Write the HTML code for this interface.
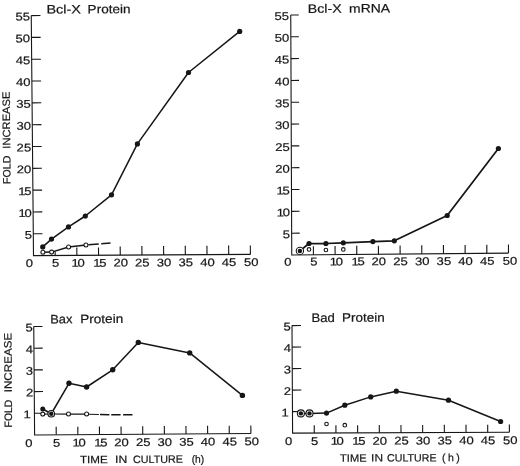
<!DOCTYPE html>
<html><head><meta charset="utf-8"><title>Fold increase vs time in culture</title>
<style>html,body{margin:0;padding:0;background:#fff;}svg{display:block;}text{font-family:"Liberation Sans",sans-serif;fill:#161616;stroke:#161616;stroke-width:0.2px;}</style>
</head><body>
<svg width="520" height="466" viewBox="0 0 520 466" style="will-change:transform;filter:grayscale(1)">
<rect width="520" height="466" fill="#fff"/>
<g id="bclx-protein">
<path d="M31.25 15.6 L33.5 255.6 L250.4 254.4" fill="none" stroke="#161616" stroke-width="1.1" stroke-linejoin="miter"/>
<path d="M33.3 233.78 L42.5 233.73" stroke="#161616" stroke-width="1.1"/>
<text transform="translate(32 238.69) rotate(-0.32) scale(1.17 1)" font-size="11.2" text-anchor="end">5</text>
<path d="M33.09 211.96 L42.29 211.91" stroke="#161616" stroke-width="1.1"/>
<text transform="translate(31.79 216.87) rotate(-0.32) scale(1.17 1)" font-size="11.2" text-anchor="end">1<tspan dx="-1.1">0</tspan></text>
<path d="M32.89 190.15 L42.09 190.09" stroke="#161616" stroke-width="1.1"/>
<text transform="translate(31.59 195.06) rotate(-0.32) scale(1.17 1)" font-size="11.2" text-anchor="end">1<tspan dx="-1.1">5</tspan></text>
<path d="M32.68 168.33 L41.88 168.28" stroke="#161616" stroke-width="1.1"/>
<text transform="translate(31.38 173.24) rotate(-0.32) scale(1.17 1)" font-size="11.2" text-anchor="end">20</text>
<path d="M32.48 146.51 L41.68 146.46" stroke="#161616" stroke-width="1.1"/>
<text transform="translate(31.18 151.42) rotate(-0.32) scale(1.17 1)" font-size="11.2" text-anchor="end">25</text>
<path d="M32.27 124.69 L41.47 124.64" stroke="#161616" stroke-width="1.1"/>
<text transform="translate(30.97 129.6) rotate(-0.32) scale(1.17 1)" font-size="11.2" text-anchor="end">30</text>
<path d="M32.07 102.87 L41.27 102.82" stroke="#161616" stroke-width="1.1"/>
<text transform="translate(30.77 107.78) rotate(-0.32) scale(1.17 1)" font-size="11.2" text-anchor="end">35</text>
<path d="M31.86 81.05 L41.06 81" stroke="#161616" stroke-width="1.1"/>
<text transform="translate(30.56 85.96) rotate(-0.32) scale(1.17 1)" font-size="11.2" text-anchor="end">40</text>
<path d="M31.66 59.24 L40.86 59.19" stroke="#161616" stroke-width="1.1"/>
<text transform="translate(30.36 64.15) rotate(-0.32) scale(1.17 1)" font-size="11.2" text-anchor="end">45</text>
<path d="M31.45 37.42 L40.65 37.37" stroke="#161616" stroke-width="1.1"/>
<text transform="translate(30.15 42.33) rotate(-0.32) scale(1.17 1)" font-size="11.2" text-anchor="end">50</text>
<path d="M31.25 15.6 L40.45 15.55" stroke="#161616" stroke-width="1.1"/>
<text transform="translate(29.95 20.51) rotate(-0.32) scale(1.17 1)" font-size="11.2" text-anchor="end">55</text>
<text transform="translate(29.4 266.9) rotate(-0.32) scale(1.17 1)" font-size="11.2" text-anchor="middle">0</text>
<path d="M55.19 255.48 L55.15 251.48" stroke="#161616" stroke-width="1.1"/>
<text transform="translate(55.59 266.81) rotate(-0.32) scale(1.17 1)" font-size="11.2" text-anchor="middle">5</text>
<path d="M76.88 255.36 L76.81 247.56" stroke="#161616" stroke-width="1.1"/>
<text transform="translate(78.18 266.72) rotate(-0.32) scale(1.17 1)" font-size="11.2" text-anchor="middle">1<tspan dx="-1.1">0</tspan></text>
<path d="M98.57 255.24 L98.5 247.44" stroke="#161616" stroke-width="1.1"/>
<text transform="translate(99.87 266.63) rotate(-0.32) scale(1.17 1)" font-size="11.2" text-anchor="middle">1<tspan dx="-1.1">5</tspan></text>
<path d="M120.26 255.12 L120.18 246.42" stroke="#161616" stroke-width="1.1"/>
<text transform="translate(120.66 266.54) rotate(-0.32) scale(1.17 1)" font-size="11.2" text-anchor="middle">20</text>
<path d="M141.95 255 L141.87 246" stroke="#161616" stroke-width="1.1"/>
<text transform="translate(142.35 266.45) rotate(-0.32) scale(1.17 1)" font-size="11.2" text-anchor="middle">25</text>
<path d="M163.64 254.88 L163.56 245.88" stroke="#161616" stroke-width="1.1"/>
<text transform="translate(164.04 266.36) rotate(-0.32) scale(1.17 1)" font-size="11.2" text-anchor="middle">30</text>
<path d="M185.33 254.76 L185.25 245.76" stroke="#161616" stroke-width="1.1"/>
<text transform="translate(185.73 266.27) rotate(-0.32) scale(1.17 1)" font-size="11.2" text-anchor="middle">35</text>
<path d="M207.02 254.64 L206.94 245.64" stroke="#161616" stroke-width="1.1"/>
<text transform="translate(207.42 266.18) rotate(-0.32) scale(1.17 1)" font-size="11.2" text-anchor="middle">40</text>
<path d="M228.71 254.52 L228.63 245.52" stroke="#161616" stroke-width="1.1"/>
<text transform="translate(229.11 266.09) rotate(-0.32) scale(1.17 1)" font-size="11.2" text-anchor="middle">45</text>
<path d="M250.4 254.4 L250.32 245.4" stroke="#161616" stroke-width="1.1"/>
<text transform="translate(251.2 266) rotate(-0.32) scale(1.17 1)" font-size="11.2" text-anchor="middle">50</text>
<text transform="translate(46.4 13.6) rotate(-0.3)" font-size="12.2"><tspan x="0" textLength="34.6" lengthAdjust="spacingAndGlyphs">Bcl-X</tspan> <tspan x="41.2" textLength="43" lengthAdjust="spacingAndGlyphs">Protein</tspan></text>
<text transform="translate(10.6 184) rotate(-90.5)" font-size="10.7"><tspan x="0" textLength="28.4" lengthAdjust="spacingAndGlyphs">FOLD</tspan> <tspan x="35.3" textLength="57.2" lengthAdjust="spacingAndGlyphs">INCREASE</tspan></text>
<path d="M42.9 252.25 L51.6 252.1 L68.6 247 L85.95 244.95" fill="none" stroke="#161616" stroke-width="1.5" stroke-linejoin="round"/>
<path d="M88.4 244.75 L98.75 243.95" fill="none" stroke="#161616" stroke-width="1.5" stroke-linejoin="round"/>
<path d="M101.25 243.75 L110.6 243" fill="none" stroke="#161616" stroke-width="1.5" stroke-linejoin="round"/>
<path d="M42.75 246.9 L51.5 239.1 L68.5 226.9 L85.3 216 L111.5 194.8 L137.4 143.9 L188.5 72.5 L239.7 31.4" fill="none" stroke="#161616" stroke-width="1.5" stroke-linejoin="round"/>
<circle cx="42.9" cy="252.25" r="2.0" fill="#fff" stroke="#161616" stroke-width="1.05"/>
<circle cx="51.6" cy="252.1" r="2.0" fill="#fff" stroke="#161616" stroke-width="1.05"/>
<circle cx="68.6" cy="247" r="2.0" fill="#fff" stroke="#161616" stroke-width="1.05"/>
<circle cx="85.95" cy="244.95" r="2.0" fill="#fff" stroke="#161616" stroke-width="1.05"/>
<circle cx="42.75" cy="246.9" r="2.6" fill="#161616"/>
<circle cx="51.5" cy="239.1" r="2.6" fill="#161616"/>
<circle cx="68.5" cy="226.9" r="2.6" fill="#161616"/>
<circle cx="85.3" cy="216" r="2.6" fill="#161616"/>
<circle cx="111.5" cy="194.8" r="2.6" fill="#161616"/>
<circle cx="137.4" cy="143.9" r="2.6" fill="#161616"/>
<circle cx="188.5" cy="72.5" r="2.6" fill="#161616"/>
<circle cx="239.7" cy="31.4" r="2.6" fill="#161616"/>
</g>
<g id="bclx-mrna">
<path d="M290.75 15 L291.75 255 L508.5 253.1" fill="none" stroke="#161616" stroke-width="1.1" stroke-linejoin="miter"/>
<path d="M291.66 233.18 L299.66 233.11" stroke="#161616" stroke-width="1.1"/>
<text transform="translate(290.06 238.09) rotate(-0.5) scale(1.17 1)" font-size="11.2" text-anchor="end">5</text>
<path d="M291.57 211.36 L299.57 211.29" stroke="#161616" stroke-width="1.1"/>
<text transform="translate(289.97 216.27) rotate(-0.5) scale(1.17 1)" font-size="11.2" text-anchor="end">1<tspan dx="-1.1">0</tspan></text>
<path d="M291.48 189.55 L299.48 189.48" stroke="#161616" stroke-width="1.1"/>
<text transform="translate(289.88 194.46) rotate(-0.5) scale(1.17 1)" font-size="11.2" text-anchor="end">1<tspan dx="-1.1">5</tspan></text>
<path d="M291.39 167.73 L299.39 167.66" stroke="#161616" stroke-width="1.1"/>
<text transform="translate(289.79 172.64) rotate(-0.5) scale(1.17 1)" font-size="11.2" text-anchor="end">20</text>
<path d="M291.3 145.91 L299.3 145.84" stroke="#161616" stroke-width="1.1"/>
<text transform="translate(289.7 150.82) rotate(-0.5) scale(1.17 1)" font-size="11.2" text-anchor="end">25</text>
<path d="M291.2 124.09 L299.2 124.02" stroke="#161616" stroke-width="1.1"/>
<text transform="translate(289.6 129) rotate(-0.5) scale(1.17 1)" font-size="11.2" text-anchor="end">30</text>
<path d="M291.11 102.27 L299.11 102.2" stroke="#161616" stroke-width="1.1"/>
<text transform="translate(289.51 107.18) rotate(-0.5) scale(1.17 1)" font-size="11.2" text-anchor="end">35</text>
<path d="M291.02 80.45 L299.02 80.38" stroke="#161616" stroke-width="1.1"/>
<text transform="translate(289.42 85.36) rotate(-0.5) scale(1.17 1)" font-size="11.2" text-anchor="end">40</text>
<path d="M290.93 58.64 L298.93 58.57" stroke="#161616" stroke-width="1.1"/>
<text transform="translate(289.33 63.55) rotate(-0.5) scale(1.17 1)" font-size="11.2" text-anchor="end">45</text>
<path d="M290.84 36.82 L298.84 36.75" stroke="#161616" stroke-width="1.1"/>
<text transform="translate(289.24 41.73) rotate(-0.5) scale(1.17 1)" font-size="11.2" text-anchor="end">50</text>
<path d="M290.75 15 L298.75 14.93" stroke="#161616" stroke-width="1.1"/>
<text transform="translate(289.15 19.91) rotate(-0.5) scale(1.17 1)" font-size="11.2" text-anchor="end">55</text>
<text transform="translate(288 265.6) rotate(-0.5) scale(1.17 1)" font-size="11.2" text-anchor="middle">0</text>
<path d="M313.43 254.81 L313.39 246.21" stroke="#161616" stroke-width="1.1"/>
<text transform="translate(313.82 265.52) rotate(-0.5) scale(1.17 1)" font-size="11.2" text-anchor="middle">5</text>
<path d="M335.1 254.62 L335.06 246.02" stroke="#161616" stroke-width="1.1"/>
<text transform="translate(336.4 265.43) rotate(-0.5) scale(1.17 1)" font-size="11.2" text-anchor="middle">1<tspan dx="-1.1">0</tspan></text>
<path d="M356.77 254.43 L356.74 245.83" stroke="#161616" stroke-width="1.1"/>
<text transform="translate(358.07 265.35) rotate(-0.5) scale(1.17 1)" font-size="11.2" text-anchor="middle">1<tspan dx="-1.1">5</tspan></text>
<path d="M378.45 254.24 L378.41 245.64" stroke="#161616" stroke-width="1.1"/>
<text transform="translate(378.85 265.26) rotate(-0.5) scale(1.17 1)" font-size="11.2" text-anchor="middle">20</text>
<path d="M400.12 254.05 L400.09 245.45" stroke="#161616" stroke-width="1.1"/>
<text transform="translate(400.52 265.18) rotate(-0.5) scale(1.17 1)" font-size="11.2" text-anchor="middle">25</text>
<path d="M421.8 253.86 L421.76 245.26" stroke="#161616" stroke-width="1.1"/>
<text transform="translate(422.2 265.09) rotate(-0.5) scale(1.17 1)" font-size="11.2" text-anchor="middle">30</text>
<path d="M443.48 253.67 L443.44 245.07" stroke="#161616" stroke-width="1.1"/>
<text transform="translate(443.88 265) rotate(-0.5) scale(1.17 1)" font-size="11.2" text-anchor="middle">35</text>
<path d="M465.15 253.48 L465.11 244.88" stroke="#161616" stroke-width="1.1"/>
<text transform="translate(465.55 264.92) rotate(-0.5) scale(1.17 1)" font-size="11.2" text-anchor="middle">40</text>
<path d="M486.83 253.29 L486.79 244.69" stroke="#161616" stroke-width="1.1"/>
<text transform="translate(487.23 264.83) rotate(-0.5) scale(1.17 1)" font-size="11.2" text-anchor="middle">45</text>
<path d="M508.5 253.1 L508.46 244.5" stroke="#161616" stroke-width="1.1"/>
<text transform="translate(510 264.75) rotate(-0.5) scale(1.17 1)" font-size="11.2" text-anchor="middle">50</text>
<text transform="translate(307.8 12.9) rotate(-0.3)" font-size="12.2"><tspan x="0" textLength="33.9" lengthAdjust="spacingAndGlyphs">Bcl-X</tspan> <tspan x="41.3" textLength="41" lengthAdjust="spacingAndGlyphs">mRNA</tspan></text>
<path d="M299.9 250.9 L309 243.5 L325.9 243.5 L343.3 242.8 L372.9 241.6 L394.3 240.8 L447.2 215.5 L498.4 148.5" fill="none" stroke="#161616" stroke-width="1.75" stroke-linejoin="round"/>
<circle cx="299.9" cy="250.9" r="3.65" fill="#fff" stroke="#161616" stroke-width="1.1"/>
<circle cx="299.9" cy="250.9" r="2.25" fill="#161616"/>
<circle cx="309" cy="243.5" r="2.6" fill="#161616"/>
<circle cx="325.9" cy="243.5" r="2.6" fill="#161616"/>
<circle cx="343.3" cy="242.8" r="2.6" fill="#161616"/>
<circle cx="372.9" cy="241.6" r="2.6" fill="#161616"/>
<circle cx="394.3" cy="240.8" r="2.6" fill="#161616"/>
<circle cx="447.2" cy="215.5" r="2.6" fill="#161616"/>
<circle cx="498.4" cy="148.5" r="2.6" fill="#161616"/>
<circle cx="309" cy="249.4" r="1.8" fill="#fff" stroke="#161616" stroke-width="1.1"/>
<circle cx="325.9" cy="250" r="1.8" fill="#fff" stroke="#161616" stroke-width="1.1"/>
<circle cx="343.3" cy="249.4" r="1.8" fill="#fff" stroke="#161616" stroke-width="1.1"/>
</g>
<g id="bax-protein">
<path d="M33.75 326.5 L34.6 435 L250.9 433.5" fill="none" stroke="#161616" stroke-width="1.1" stroke-linejoin="miter"/>
<path d="M34.43 413.3 L43.18 413.24" stroke="#161616" stroke-width="1.1"/>
<text transform="translate(30.83 418.21) rotate(-0.4) scale(1.17 1)" font-size="11.2" text-anchor="end">1</text>
<path d="M34.26 391.6 L43.01 391.54" stroke="#161616" stroke-width="1.1"/>
<text transform="translate(33.26 396.51) rotate(-0.4) scale(1.17 1)" font-size="11.2" text-anchor="end">2</text>
<path d="M34.09 369.9 L42.84 369.84" stroke="#161616" stroke-width="1.1"/>
<text transform="translate(33.09 374.81) rotate(-0.4) scale(1.17 1)" font-size="11.2" text-anchor="end">3</text>
<path d="M33.92 348.2 L42.67 348.14" stroke="#161616" stroke-width="1.1"/>
<text transform="translate(32.92 353.11) rotate(-0.4) scale(1.17 1)" font-size="11.2" text-anchor="end">4</text>
<path d="M33.75 326.5 L42.5 326.44" stroke="#161616" stroke-width="1.1"/>
<text transform="translate(32.75 331.41) rotate(-0.4) scale(1.17 1)" font-size="11.2" text-anchor="end">5</text>
<text transform="translate(29 446.9) rotate(-0.4) scale(1.17 1)" font-size="11.2" text-anchor="middle">0</text>
<path d="M56.23 434.85 L56.17 426.85" stroke="#161616" stroke-width="1.1"/>
<text transform="translate(56.63 446.73) rotate(-0.4) scale(1.17 1)" font-size="11.2" text-anchor="middle">5</text>
<path d="M77.86 434.7 L77.8 426.7" stroke="#161616" stroke-width="1.1"/>
<text transform="translate(79.16 446.57) rotate(-0.4) scale(1.17 1)" font-size="11.2" text-anchor="middle">1<tspan dx="-1.1">0</tspan></text>
<path d="M99.49 434.55 L99.43 426.55" stroke="#161616" stroke-width="1.1"/>
<text transform="translate(100.79 446.4) rotate(-0.4) scale(1.17 1)" font-size="11.2" text-anchor="middle">1<tspan dx="-1.1">5</tspan></text>
<path d="M121.12 434.4 L121.06 426.4" stroke="#161616" stroke-width="1.1"/>
<text transform="translate(121.52 446.24) rotate(-0.4) scale(1.17 1)" font-size="11.2" text-anchor="middle">20</text>
<path d="M142.75 434.25 L142.69 426.25" stroke="#161616" stroke-width="1.1"/>
<text transform="translate(143.15 446.07) rotate(-0.4) scale(1.17 1)" font-size="11.2" text-anchor="middle">25</text>
<path d="M164.38 434.1 L164.32 426.1" stroke="#161616" stroke-width="1.1"/>
<text transform="translate(164.78 445.91) rotate(-0.4) scale(1.17 1)" font-size="11.2" text-anchor="middle">30</text>
<path d="M186.01 433.95 L185.95 425.95" stroke="#161616" stroke-width="1.1"/>
<text transform="translate(186.41 445.75) rotate(-0.4) scale(1.17 1)" font-size="11.2" text-anchor="middle">35</text>
<path d="M207.64 433.8 L207.58 425.8" stroke="#161616" stroke-width="1.1"/>
<text transform="translate(208.04 445.58) rotate(-0.4) scale(1.17 1)" font-size="11.2" text-anchor="middle">40</text>
<path d="M229.27 433.65 L229.21 425.65" stroke="#161616" stroke-width="1.1"/>
<text transform="translate(229.67 445.42) rotate(-0.4) scale(1.17 1)" font-size="11.2" text-anchor="middle">45</text>
<path d="M250.9 433.5 L250.84 425.5" stroke="#161616" stroke-width="1.1"/>
<text transform="translate(251.7 445.25) rotate(-0.4) scale(1.17 1)" font-size="11.2" text-anchor="middle">50</text>
<text transform="translate(50.2 323.4) rotate(-0.3)" font-size="12.4"><tspan x="0" textLength="22.2" lengthAdjust="spacingAndGlyphs">Bax</tspan> <tspan x="30" textLength="43" lengthAdjust="spacingAndGlyphs">Protein</tspan></text>
<text transform="translate(12 427.5) rotate(-90.3)" font-size="10.7"><tspan x="0" textLength="27.9" lengthAdjust="spacingAndGlyphs">FOLD</tspan> <tspan x="35.2" textLength="59.5" lengthAdjust="spacingAndGlyphs">INCREASE</tspan></text>
<path d="M42.75 414.1 L51.25 414 L68.5 414 L86.6 414" fill="none" stroke="#161616" stroke-width="1.25" stroke-linejoin="round"/>
<path d="M88.3 414.2 L98.9 414.5" fill="none" stroke="#161616" stroke-width="1.05" stroke-linejoin="round"/>
<path d="M100 414.55 L109.4 414.65" fill="none" stroke="#161616" stroke-width="1.5" stroke-linejoin="round"/>
<path d="M111.25 414.7 L120.6 414.75" fill="none" stroke="#161616" stroke-width="1.5" stroke-linejoin="round"/>
<path d="M123.1 414.75 L132.5 414.8" fill="none" stroke="#161616" stroke-width="1.5" stroke-linejoin="round"/>
<path d="M42.75 409 L51.25 413.75 L69 383.3 L86.6 387 L112.7 369.8 L138.3 342.4 L189.7 352.9 L242.4 395.4" fill="none" stroke="#161616" stroke-width="1.5" stroke-linejoin="round"/>
<circle cx="42.75" cy="414.1" r="2.0" fill="#fff" stroke="#161616" stroke-width="1.05"/>
<circle cx="51.25" cy="414" r="2.0" fill="#fff" stroke="#161616" stroke-width="1.05"/>
<circle cx="68.5" cy="414" r="2.0" fill="#fff" stroke="#161616" stroke-width="1.05"/>
<circle cx="86.6" cy="414" r="2.0" fill="#fff" stroke="#161616" stroke-width="1.05"/>
<circle cx="51.25" cy="413.75" r="3.3" fill="#fff" stroke="#161616" stroke-width="1.1"/>
<circle cx="42.75" cy="409" r="2.5" fill="#161616"/>
<circle cx="51.25" cy="413.75" r="2.2" fill="#161616"/>
<circle cx="69" cy="383.3" r="2.7" fill="#161616"/>
<circle cx="86.6" cy="387" r="2.7" fill="#161616"/>
<circle cx="112.7" cy="369.8" r="2.7" fill="#161616"/>
<circle cx="138.3" cy="342.4" r="2.7" fill="#161616"/>
<circle cx="189.7" cy="352.9" r="2.7" fill="#161616"/>
<circle cx="242.4" cy="395.4" r="2.7" fill="#161616"/>
</g>
<g id="bad-protein">
<path d="M292 325.6 L292.6 433.1 L509.4 432.25" fill="none" stroke="#161616" stroke-width="1.1" stroke-linejoin="miter"/>
<path d="M292.48 411.6 L301.48 411.56" stroke="#161616" stroke-width="1.1"/>
<text transform="translate(288.68 416.51) rotate(-0.22) scale(1.17 1)" font-size="11.2" text-anchor="end">1</text>
<path d="M292.36 390.1 L301.36 390.06" stroke="#161616" stroke-width="1.1"/>
<text transform="translate(291.16 395.01) rotate(-0.22) scale(1.17 1)" font-size="11.2" text-anchor="end">2</text>
<path d="M292.24 368.6 L301.24 368.56" stroke="#161616" stroke-width="1.1"/>
<text transform="translate(291.04 373.51) rotate(-0.22) scale(1.17 1)" font-size="11.2" text-anchor="end">3</text>
<path d="M292.12 347.1 L301.12 347.06" stroke="#161616" stroke-width="1.1"/>
<text transform="translate(290.92 352.01) rotate(-0.22) scale(1.17 1)" font-size="11.2" text-anchor="end">4</text>
<path d="M292 325.6 L301 325.56" stroke="#161616" stroke-width="1.1"/>
<text transform="translate(290.8 330.51) rotate(-0.22) scale(1.17 1)" font-size="11.2" text-anchor="end">5</text>
<text transform="translate(288.6 445) rotate(-0.22) scale(1.17 1)" font-size="11.2" text-anchor="middle">0</text>
<path d="M314.28 433.02 L314.24 425.32" stroke="#161616" stroke-width="1.1"/>
<text transform="translate(314.68 444.91) rotate(-0.22) scale(1.17 1)" font-size="11.2" text-anchor="middle">5</text>
<path d="M335.96 432.93 L335.92 425.23" stroke="#161616" stroke-width="1.1"/>
<text transform="translate(337.26 444.82) rotate(-0.22) scale(1.17 1)" font-size="11.2" text-anchor="middle">1<tspan dx="-1.1">0</tspan></text>
<path d="M357.64 432.85 L357.6 425.15" stroke="#161616" stroke-width="1.1"/>
<text transform="translate(358.94 444.73) rotate(-0.22) scale(1.17 1)" font-size="11.2" text-anchor="middle">1<tspan dx="-1.1">5</tspan></text>
<path d="M379.32 432.76 L379.28 425.06" stroke="#161616" stroke-width="1.1"/>
<text transform="translate(379.72 444.64) rotate(-0.22) scale(1.17 1)" font-size="11.2" text-anchor="middle">20</text>
<path d="M401 432.68 L400.96 424.98" stroke="#161616" stroke-width="1.1"/>
<text transform="translate(401.4 444.55) rotate(-0.22) scale(1.17 1)" font-size="11.2" text-anchor="middle">25</text>
<path d="M422.68 432.59 L422.64 424.89" stroke="#161616" stroke-width="1.1"/>
<text transform="translate(423.08 444.46) rotate(-0.22) scale(1.17 1)" font-size="11.2" text-anchor="middle">30</text>
<path d="M444.36 432.5 L444.32 424.81" stroke="#161616" stroke-width="1.1"/>
<text transform="translate(444.76 444.37) rotate(-0.22) scale(1.17 1)" font-size="11.2" text-anchor="middle">35</text>
<path d="M466.04 432.42 L466 424.72" stroke="#161616" stroke-width="1.1"/>
<text transform="translate(466.44 444.28) rotate(-0.22) scale(1.17 1)" font-size="11.2" text-anchor="middle">40</text>
<path d="M487.72 432.33 L487.68 424.64" stroke="#161616" stroke-width="1.1"/>
<text transform="translate(488.12 444.19) rotate(-0.22) scale(1.17 1)" font-size="11.2" text-anchor="middle">45</text>
<path d="M509.4 432.25 L509.36 424.55" stroke="#161616" stroke-width="1.1"/>
<text transform="translate(510.2 444.1) rotate(-0.22) scale(1.17 1)" font-size="11.2" text-anchor="middle">50</text>
<text transform="translate(311.5 322) rotate(-0.3)" font-size="12.4"><tspan x="0" textLength="23.4" lengthAdjust="spacingAndGlyphs">Bad</tspan> <tspan x="30.6" textLength="42.6" lengthAdjust="spacingAndGlyphs">Protein</tspan></text>
<path d="M300.9 413.4 L309.5 413.4 L326.5 413.1 L344.8 405.2 L370.7 396.9 L396.3 391.2 L448.5 400.2 L500.6 421.5" fill="none" stroke="#161616" stroke-width="1.5" stroke-linejoin="round"/>
<circle cx="300.9" cy="413.4" r="3.5" fill="#fff" stroke="#161616" stroke-width="1.1"/>
<circle cx="309.5" cy="413.4" r="3.5" fill="#fff" stroke="#161616" stroke-width="1.1"/>
<circle cx="300.9" cy="413.4" r="2.2" fill="#161616"/>
<circle cx="309.5" cy="413.4" r="2.2" fill="#161616"/>
<circle cx="326.5" cy="413.1" r="2.6" fill="#161616"/>
<circle cx="344.8" cy="405.2" r="2.6" fill="#161616"/>
<circle cx="370.7" cy="396.9" r="2.6" fill="#161616"/>
<circle cx="396.3" cy="391.2" r="2.6" fill="#161616"/>
<circle cx="448.5" cy="400.2" r="2.6" fill="#161616"/>
<circle cx="500.6" cy="421.5" r="2.6" fill="#161616"/>
<circle cx="326.5" cy="424" r="1.8" fill="#fff" stroke="#161616" stroke-width="1.1"/>
<circle cx="344.8" cy="425.2" r="1.8" fill="#fff" stroke="#161616" stroke-width="1.1"/>
</g>
<text transform="translate(80 463.3) rotate(-0.3)" font-size="10.6"><tspan x="0" textLength="27.8" lengthAdjust="spacingAndGlyphs">TIME</tspan> <tspan x="35" textLength="12.2" lengthAdjust="spacingAndGlyphs">IN</tspan> <tspan x="53" textLength="50" lengthAdjust="spacingAndGlyphs">CULTURE</tspan> <tspan x="111.7" textLength="12.6" lengthAdjust="spacingAndGlyphs">(h)</tspan></text>
<text transform="translate(340.1 461.7) rotate(-0.2)" font-size="10.6"><tspan x="0" textLength="26.5" lengthAdjust="spacingAndGlyphs">TIME</tspan> <tspan x="31" textLength="11.9" lengthAdjust="spacingAndGlyphs">IN</tspan> <tspan x="47" textLength="49.4" lengthAdjust="spacingAndGlyphs">CULTURE</tspan> <tspan x="101.8" textLength="17.9" lengthAdjust="spacing">(h)</tspan></text>
</svg>
</body></html>
